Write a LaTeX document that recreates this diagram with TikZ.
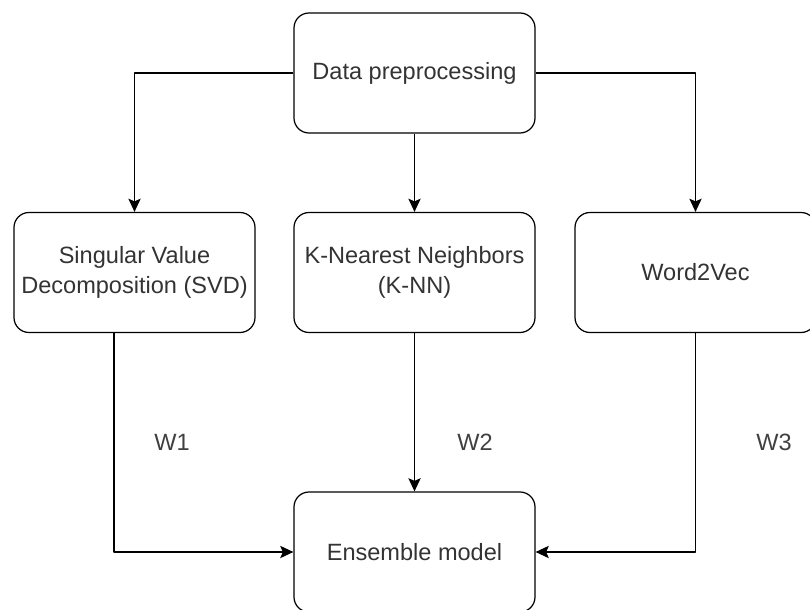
\documentclass[tikz,border=0pt]{standalone}
\usepackage{fontspec}
\setmainfont{Liberation Sans}
\usetikzlibrary{arrows.meta}
\begin{document}
\begin{tikzpicture}[font=\fontsize{13.4}{16.8}\selectfont, line join=round, >={Stealth[length=7.5pt,width=7pt,inset=1.5pt]},
	box/.style={draw, line width=0.7pt, rounded corners=0.3cm, minimum width=4.82cm, minimum height=2.4cm, align=center, text=black!80},
	wt/.style={text=black!75}]
			\useasboundingbox (0,0) rectangle (16.2,12.18);
			\node[box] (prep) at (8.29,10.72) {Data preprocessing};
			\node[box] (svd) at (2.69,6.73) {Singular Value\\Decomposition (SVD)};
			\node[box] (knn) at (8.29,6.73) {K-Nearest Neighbors\\(K-NN)};
			\node[box] (w2v) at (13.91,6.73) {Word2Vec};
			\node[box] (ens) at (8.29,1.14) {Ensemble model};
			\draw[line width=0.7pt, ->] (prep.west) -| (svd.north);
			\draw[line width=0.7pt, ->] (prep) -- (knn);
			\draw[line width=0.7pt, ->] (prep.east) -| (w2v.north);
			\draw[line width=0.7pt, ->] ([xshift=-0.41cm]svd.south) |- (ens.west);
			\draw[line width=0.7pt, ->] (knn) -- (ens);
			\draw[line width=0.7pt, ->] (w2v.south) |- (ens.east);
			\node[wt] (w1) at (3.44,3.34) {W1};
			\node[wt] (w2) at (9.5,3.34) {W2};
			\node[wt] (w3) at (15.48,3.34) {W3};
		\end{tikzpicture}
\end{document}
